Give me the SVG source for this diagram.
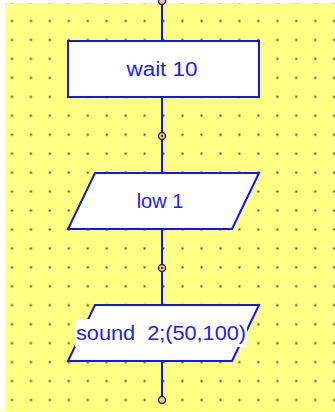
<svg xmlns="http://www.w3.org/2000/svg" width="335" height="412" viewBox="0 0 335 412">
  <style>
    .shape { fill: #ffffff; stroke: #1414f4; stroke-width: 2; }
    .wire { stroke: #1414f4; stroke-width: 2; fill: none; }
    .port { fill: #f2c4b4; stroke: #303030; stroke-width: 1.5; }
    .pin { fill: #303030; }
    .label { font-family: "Liberation Sans", Arial, sans-serif; font-size: 20px; fill: #2020f4; text-anchor: middle; }
  </style>
  <defs>
    <pattern id="grid" x="2.5" y="11.5" width="18.95" height="18.95" patternUnits="userSpaceOnUse">
      <rect x="8.5" y="8.5" width="2" height="2" fill="#4a4a28"/>
    </pattern>
  </defs>

  <!-- canvas -->
  <rect x="0" y="0" width="335" height="412" fill="#ffffff"/>
  <rect x="5" y="3" width="330" height="408" fill="#ffff84"/>
  <rect x="5" y="3" width="330" height="408" fill="url(#grid)"/>

  <!-- connectors -->
  <g id="connectors">
    <line class="wire" x1="162" y1="0" x2="162" y2="41"/>
    <line class="wire" x1="162" y1="97" x2="162" y2="173"/>
    <line class="wire" x1="162" y1="229" x2="162" y2="305"/>
    <line class="wire" x1="162" y1="361" x2="162" y2="400"/>
    <circle class="port" cx="162" cy="1" r="3.5"/>
    <circle class="port" cx="162" cy="136" r="3.5"/>
    <rect class="pin" x="161" y="135" width="2" height="2"/>
    <circle class="port" cx="162" cy="268" r="3.5"/>
    <rect class="pin" x="161" y="267" width="2" height="2"/>
    <circle class="port" cx="162" cy="400" r="3.5"/>
  </g>

  <g id="wait">
    <rect class="shape" x="68" y="41" width="191" height="56"/>
    <text class="label" x="162" y="76" textLength="71" lengthAdjust="spacingAndGlyphs">wait 10</text>
  </g>

  <g id="low">
    <polygon class="shape" points="95,173 259,173 232,229 68,229"/>
    <text class="label" x="160" y="208">low 1</text>
  </g>

  <g id="sound">
    <polygon class="shape" points="95,305 259,305 232,361 68,361"/>
    <rect x="75" y="319" width="172" height="28" fill="#ffffff"/>
    <text class="label" x="161" y="340" textLength="170" lengthAdjust="spacingAndGlyphs" xml:space="preserve">sound  2;(50,100)</text>
  </g>
</svg>
